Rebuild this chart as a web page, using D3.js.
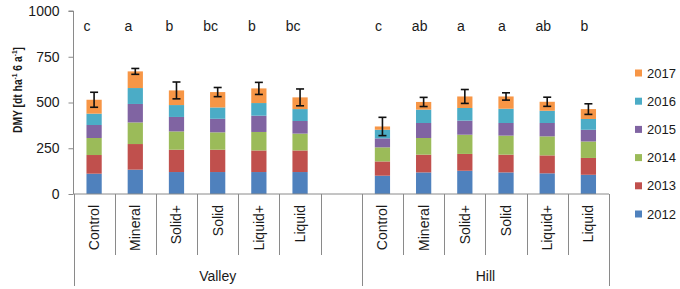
<!DOCTYPE html>
<html>
<head>
<meta charset="utf-8">
<script src="https://cdn.jsdelivr.net/npm/d3@7"></script>
<style>
  html, body { margin: 0; padding: 0; background: #fff; }
  svg { display: block; font-family: "Liberation Sans", Arial, sans-serif; }
</style>
</head>
<body>
<svg id="chart" width="680" height="289"></svg>
<script>
// ---- data ----
const sites = ["Valley", "Hill"];
const treatments = ["Control", "Mineral", "Solid+", "Solid", "Liquid+", "Liquid"];
const years = ["2012", "2013", "2014", "2015", "2016", "2017"];
// values per year: Valley (6 treatments) then Hill (6 treatments)
const y2012 = [111, 133, 120, 120, 120, 120, 100, 118, 127, 118, 113, 105];
const y2013 = [102, 140, 122, 122, 118, 118, 78, 97, 92, 97, 98, 92];
const y2014 = [93, 118, 100, 95, 101, 92, 77, 91, 105, 104, 104, 90];
const y2015 = [71, 101, 79, 74, 89, 69, 49, 82, 77, 69, 73, 64];
const y2016 = [62, 87, 65, 62, 69, 65, 47, 73, 69, 78, 67, 59];
const y2017 = [76, 91, 80, 84, 80, 64, 18, 42, 63, 67, 49, 54];
const errors = [41, 16, 46, 25, 33, 46, 50, 25, 38, 20, 25, 29];
const letters = ["c", "a", "b", "bc", "b", "bc", "c", "ab", "a", "a", "ab", "b"];
const yTicks = [0, 250, 500, 750, 1000];
const colors = ["#4F81BD", "#C0504D", "#9BBB59", "#8064A2", "#4BACC6", "#F79646"];

const seriesValues = [y2012, y2013, y2014, y2015, y2016, y2017];

// slots: Valley 6 + one empty slot, Hill 6
const slots = [];
sites.forEach((s, si) => {
  treatments.forEach(t => slots.push({ key: s + "|" + t, site: s, treatment: t }));
  if (si === 0) slots.push({ key: "Valley|_blank", site: s, treatment: "" });
});
const rows = [];
sites.forEach((s, si) => treatments.forEach((t, ti) => {
  const i = si * treatments.length + ti;
  const row = { key: s + "|" + t, err: errors[i], letter: letters[i] };
  years.forEach((y, yi) => row[y] = seriesValues[yi][i]);
  row.total = years.reduce((a, y) => a + row[y], 0);
  rows.push(row);
}));

// ---- layout ----
const svg = d3.select("#chart");
const x = d3.scaleBand().domain(slots.map(d => d.key)).range([73.5, 609]).padding(0);
const y = d3.scaleLinear().domain([0, 1000]).range([194, 11]);
const bw = x.bandwidth();
const barW = bw * 0.37;
const color = d3.scaleOrdinal().domain(years).range(colors);
const axisColor = "#8a8a8a";

// y axis
const yAxis = svg.append("g").attr("transform", "translate(73.5,0)")
  .call(d3.axisLeft(y).tickValues(yTicks).tickSize(5).tickPadding(9).tickFormat(d3.format("d")));
yAxis.select(".domain").attr("stroke", axisColor).attr("d", `M-5,${y(1000)}H0V${y(0)}`);
yAxis.selectAll(".tick line").attr("stroke", axisColor);
yAxis.selectAll(".tick text").attr("font-size", 14).attr("fill", "#1a1a1a")
  .attr("font-family", "Liberation Sans, Arial, sans-serif");

// y label
const yl = svg.append("text")
  .attr("transform", `translate(22,90) rotate(-90)`)
  .attr("text-anchor", "middle")
  .attr("textLength", 86).attr("lengthAdjust", "spacingAndGlyphs")
  .attr("font-size", 12.5).attr("font-weight", "bold").attr("fill", "#1a1a1a");
yl.append("tspan").text("DMY [dt ha");
yl.append("tspan").attr("font-size", 8).attr("dy", -5).text("-1");
yl.append("tspan").attr("dy", 5).text(" 6 a");
yl.append("tspan").attr("font-size", 8).attr("dy", -5).text("-1");
yl.append("tspan").attr("dy", 5).text("]");

// stacked bars
const stack = d3.stack().keys(years)(rows);
svg.append("g").selectAll("g").data(stack).join("g")
  .attr("fill", d => color(d.key))
  .selectAll("rect").data(d => d).join("rect")
  .attr("x", d => x(d.data.key) + (bw - barW) / 2)
  .attr("width", barW)
  .attr("y", d => y(d[1]))
  .attr("height", d => y(d[0]) - y(d[1]));

// error bars
const eg = svg.append("g").attr("stroke", "#111").attr("stroke-width", 1.6);
rows.forEach(r => {
  const cx = x(r.key) + bw / 2;
  const y1 = y(r.total + r.err), y0 = y(r.total - r.err);
  eg.append("line").attr("x1", cx).attr("x2", cx).attr("y1", y1).attr("y2", y0);
  eg.append("line").attr("x1", cx - 4).attr("x2", cx + 4).attr("y1", y1).attr("y2", y1);
  eg.append("line").attr("x1", cx - 4).attr("x2", cx + 4).attr("y1", y0).attr("y2", y0);
});

// significance letters
svg.append("g").selectAll("text").data(rows).join("text")
  .attr("x", (d, i) => x(d.key) + bw / 2 - (i < 6 ? 7 : 4))
  .attr("y", 31)
  .attr("text-anchor", "middle")
  .attr("font-size", 14).attr("fill", "#1a1a1a")
  .text(d => d.letter);

// x axis: baseline and multi-level category lines
const xg = svg.append("g").attr("stroke", axisColor).attr("stroke-width", 1);
xg.append("line").attr("x1", 73.5).attr("x2", 609).attr("y1", y(0)).attr("y2", y(0));
const boundaries = slots.map(d => x(d.key)).concat([x.range()[1]]);
boundaries.forEach((bx, i) => {
  const long = (i === 0 || i === 7 || i === slots.length);
  xg.append("line").attr("x1", Math.round(bx) + 0.5).attr("x2", Math.round(bx) + 0.5)
    .attr("y1", y(0)).attr("y2", long ? 286 : 255);
});

// category labels (rotated)
svg.append("g").selectAll("text").data(slots.filter(d => d.treatment)).join("text")
  .attr("transform", d => `translate(${x(d.key) + bw / 2 + 5},205) rotate(-90)`)
  .attr("text-anchor", "end")
  .attr("font-size", 14).attr("fill", "#1a1a1a")
  .text(d => d.treatment);

// site labels
sites.forEach((s, si) => {
  const first = slots.findIndex(d => d.site === s);
  const last = si === 0 ? 7 : slots.length;
  const x0 = boundaries[first], x1 = boundaries[last];
  svg.append("text").attr("x", (x0 + x1) / 2).attr("y", 281)
    .attr("text-anchor", "middle").attr("font-size", 14).attr("fill", "#1a1a1a")
    .text(s);
});

// legend (2017 at top)
const legendYears = years.slice().reverse();
const lg = svg.append("g").selectAll("g").data(legendYears).join("g")
  .attr("transform", (d, i) => `translate(635,${73 + i * 28.2})`);
lg.append("rect").attr("x", 0).attr("y", -3.5).attr("width", 7).attr("height", 7)
  .attr("fill", d => color(d));
lg.append("text").attr("x", 12).attr("y", 0).attr("dy", "0.35em")
  .attr("font-size", 13).attr("fill", "#1a1a1a").text(d => d);
</script>
</body>
</html>
